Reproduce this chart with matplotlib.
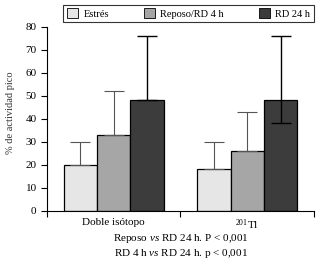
import matplotlib.pyplot as plt
import numpy as np
from matplotlib.patches import Patch

plt.rcParams['font.family'] = ['Liberation Serif', 'DejaVu Serif']
plt.rcParams['mathtext.fontset'] = 'custom'
plt.rcParams['mathtext.rm'] = 'Liberation Serif'
plt.rcParams['mathtext.it'] = 'Liberation Serif:italic'

groups = ['Doble isótopo', '$^{201}$Tl']
series = ['Estrés', 'Reposo/RD 4 h', 'RD 24 h']
values = [[20, 18], [33, 26], [48, 48]]
err_up = [[10, 12], [19, 17], [28, 28]]
err_low = [[0, 0], [0, 0], [0, 10]]
colors = ['#e6e6e6', '#a6a6a6', '#3c3c3c']
err_colors = ['#555555', '#555555', '#000000']

fig = plt.figure(figsize=(3.2, 2.61), dpi=100)
ax = fig.add_axes([0.147, 0.193, 0.834, 0.705])

x = np.arange(len(groups))
w = 0.25
for i in range(3):
    pos = x + 0.25 * (i + 1)
    ax.bar(pos, values[i], w, color=colors[i], edgecolor='black', linewidth=0.9, zorder=2)
    ax.errorbar(pos, values[i], yerr=[err_low[i], err_up[i]], fmt='none',
                ecolor=err_colors[i], elinewidth=1.0 if i == 2 else 0.8,
                capsize=7, capthick=1.0 if i == 2 else 0.8, zorder=3)

ax.set_xlim(0, 2)
ax.set_ylim(0, 80)
ax.set_yticks(range(0, 81, 10))
ax.set_xticks([0, 1, 2])
ax.set_xticklabels([])
ax.set_xticks(x + 0.5, minor=True)
ax.set_xticklabels(groups, minor=True, fontsize=8)
ax.tick_params(axis='x', which='minor', length=0, pad=5)
ax.tick_params(axis='both', which='major', labelsize=8, length=4, width=0.8, direction='out')
ax.spines['top'].set_visible(False)
ax.spines['right'].set_visible(False)
ax.spines['left'].set_linewidth(0.8)
ax.spines['bottom'].set_linewidth(0.8)
ax.set_ylabel('% de actividad pico', fontsize=7.5, color='#333333')
ax.yaxis.set_label_coords(-0.12, 0.53)

handles = [Patch(facecolor=colors[i], edgecolor='black', linewidth=0.6) for i in range(3)]
leg = fig.legend(handles, series, loc='upper left', bbox_to_anchor=(0.197, 0.912, 0.784, 0.07),
                 mode='expand', ncol=3, fontsize=7.5, frameon=True, fancybox=False,
                 handlelength=1.1, handleheight=1.0, borderpad=0.35, columnspacing=1.5,
                 handletextpad=0.5, borderaxespad=0)
leg.get_frame().set_edgecolor('black')
leg.get_frame().set_linewidth(0.8)

fig.text(0.566, 0.088, 'Reposo $\\mathit{vs}$ RD 24 h. P < 0,001', ha='center', va='center', fontsize=8)
fig.text(0.566, 0.03, 'RD 4 h $\\mathit{vs}$ RD 24 h. p < 0,001', ha='center', va='center', fontsize=8)

fig.savefig('out.png', dpi=100)
